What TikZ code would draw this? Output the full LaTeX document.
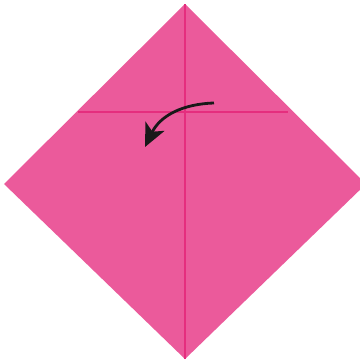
\documentclass[tikz,border=0pt]{standalone}
\usetikzlibrary{arrows.meta}
\definecolor{paper}{HTML}{EB5A9B}
\definecolor{crease}{HTML}{E52E7E}
\begin{document}
\begin{tikzpicture}[x=1pt,y=-1pt,
  creaseline/.style={draw=crease,line width=2.4pt},
  foldarrow/.style={draw=black!90,line width=2.8pt,-{Stealth[length=23pt,width=21pt,inset=6pt]}}]
\useasboundingbox (0,0) rectangle (360,360);
\coordinate (T) at (185,4);
\coordinate (L) at (4,184);
\coordinate (R) at (366,184);
\coordinate (B) at (185,359);
\fill[paper] (T) -- (R) -- (B) -- (L) -- cycle;
\coordinate (HL) at (78,112);
\coordinate (HR) at (288,112);
\path[creaseline] (HL) -- (HR);
\path[creaseline] (T) -- (B);
\coordinate (A1) at (214,103);
\coordinate (A2) at (145,147);
\path[foldarrow] (A1) .. controls (182,104) and (160,116) .. (A2);
\end{tikzpicture}
\end{document}
